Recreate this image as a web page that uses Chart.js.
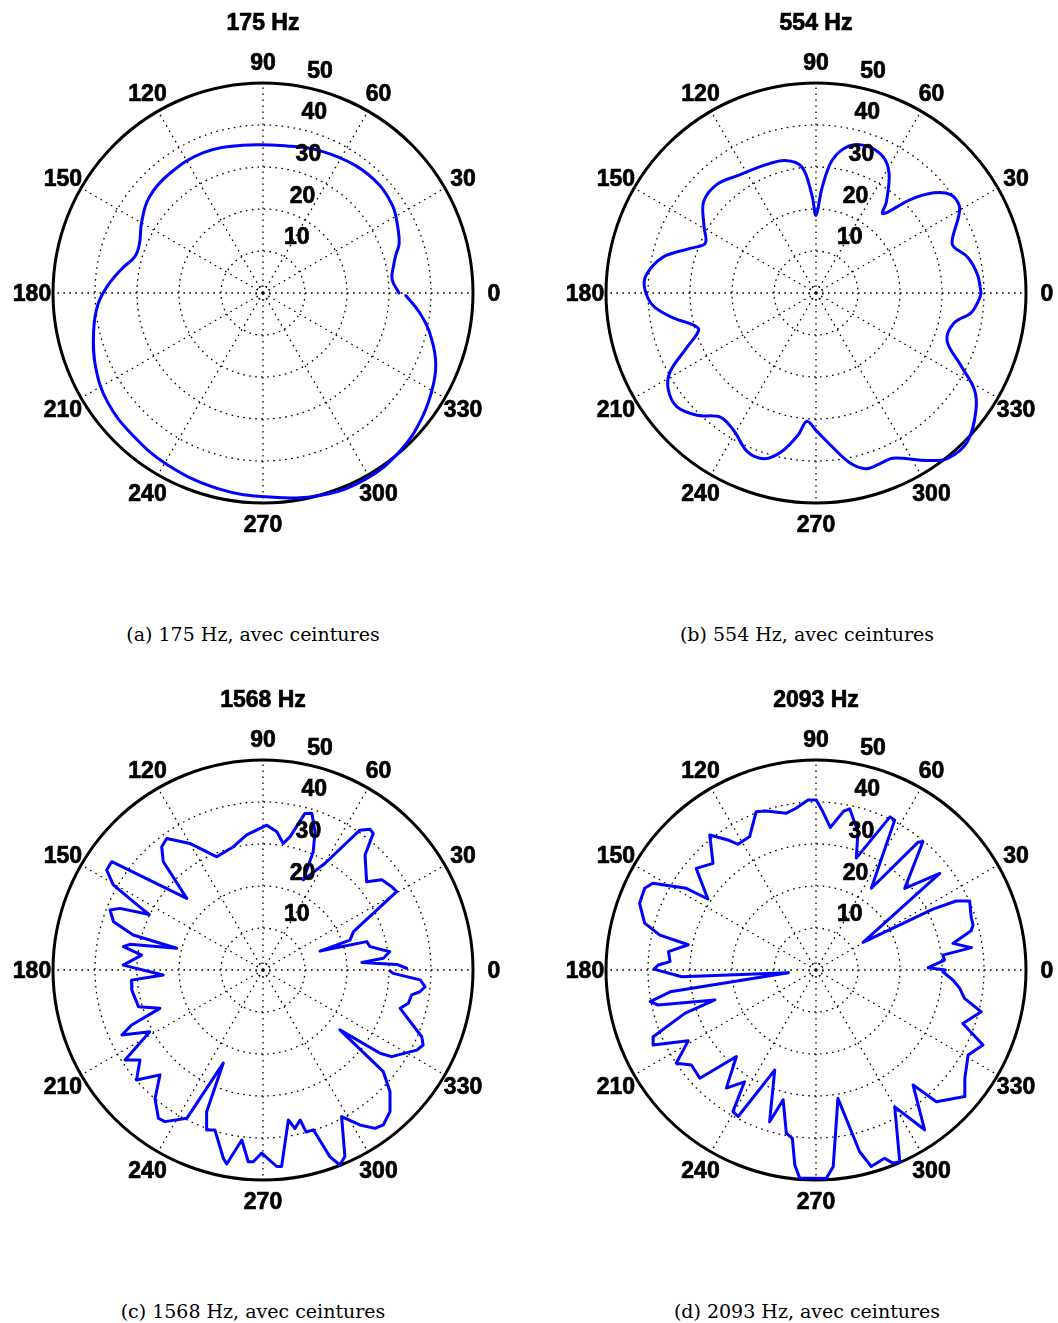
<!DOCTYPE html>
<html>
<head>
<meta charset="utf-8">
<script src="https://cdn.jsdelivr.net/npm/chart.js@4.4.1/dist/chart.umd.min.js"></script>
<style>
  body { margin:0; background:#fff; width:1058px; height:1323px; position:relative; overflow:hidden; }
  canvas { position:absolute; }
  .cap { position:absolute; width:400px; text-align:center; font-family:"DejaVu Serif", serif; font-size:19px; line-height:20px; color:#000; white-space:nowrap; }
</style>
</head>
<body>
<script>
// angle (deg) and radius readings for each panel
var titles = ["175 Hz", "554 Hz", "1568 Hz", "2093 Hz"];
var captions = ["(a) 175 Hz, avec ceintures", "(b) 554 Hz, avec ceintures",
                "(c) 1568 Hz, avec ceintures", "(d) 2093 Hz, avec ceintures"];
var angleLabels = [0, 30, 60, 90, 120, 150, 180, 210, 240, 270, 300, 330];
var radialTicks = [10, 20, 30, 40, 50];

var thetaA = [0,6,12,16,20,28,34,43,54,68,80,98,113,128,140,150,158,164,170,177,184,193,204,215,227,241,257,272,286,299,311,322,332,339,347,353,359];
var rA = [32.4,30.9,31.8,32.9,34.5,36.1,37.2,37.8,37.5,36.5,35.5,35.5,36.3,36.1,35.4,33.4,31.7,31.7,34,36.9,39.4,41.4,43.6,45.2,45.9,46.8,47.8,48.6,50.1,50.6,49.8,48.1,46,44,40.6,37.5,34];

var thetaB = [0,6.5,13.3,18.5,21.3,28.5,31.6,36.2,40.4,44.8,49.8,52.4,58.5,63.9,71.2,77.3,83,86.7,90,92.4,96.4,103.2,111.9,123.7,132.2,140.8,149.1,155.8,160.5,166.8,173.8,178.5,184.5,189.9,194.7,197.6,202.9,208.4,213.1,219.2,225.8,232.5,239.3,246.7,252.8,257.7,262.9,265.9,270.3,276,281.1,285.9,290.4,295,303.5,308.4,315.6,323.8,328.7,333.5,340,347.6,352.7,357.9,360];
var rB = [39.3,38.7,37.1,34.6,34.8,38.7,40,39.7,36.8,31.5,24.7,27.5,33.3,36.2,37,35.9,31.9,25.1,18.5,23.4,30.2,32.4,32.8,33.6,35,34.5,31.1,28.9,31.8,37.4,40.6,40.8,38.9,34.5,30.1,29.3,33.4,39.5,42,42.8,40.6,37.3,38.2,41.2,41.3,38.7,34,30.6,32.9,36.8,41.1,43.5,43.4,43.4,47.8,50.3,50.5,47.2,44.1,38.5,33.2,33.6,37.2,38.9,39.3];

var thetaC = [0.7,2.4,4.4,5.6,8.2,12.3,15.3,18.4,19,23,30.4,32.9,37.2,40.4,48.4,51.1,52.8,55.3,59.8,65.9,67,69.4,72.7,75,78.5,80.9,84.3,88.5,96.9,103.5,112.2,120,126.2,129.4,132.6,136.8,144.4,147.4,150.4,152.5,154,156.7,158.6,162.1,164.9,165.9,169.1,170.5,173,178,182.9,184.4,188.7,196.4,200.4,202.7,204.7,208.6,213.1,216.2,221,225.5,230,234.8,237.1,242.8,246.9,248.3,250.6,253.3,258.1,259.4,262.9,265.6,267.1,269.6,274,275.4,279.6,281.4,283.9,284.9,287.5,289.7,291.5,293.7,298.2,302,305.3,307.8,311.9,316.2,319.8,322.1,324.6,326,332.5,334.9,337.2,344.4,347.1,350.5,352.1,354.1,356.4,358.5,359.5];
var rC = [34.2,31.9,23.6,28.8,30.5,26.1,25.6,14.3,21.9,23.4,36.9,36.5,35.5,32.4,36.6,41.8,42.1,40.5,29.4,23.5,30.6,35.2,39.1,38.6,32.4,30.5,33.1,34.5,32.4,30.2,29.1,34.8,38.8,38,35.1,24.9,44.3,44.2,41,34,30.1,37.1,39.1,37.4,32,21.2,32.3,33.7,29.1,33.3,23.8,31.4,31.6,30.9,26.2,33.9,37,30.7,39.2,36.3,39.9,35,40,43.2,43,39.7,24.1,36.3,40.4,39.8,45.8,47,40.8,45.8,45.7,43.6,46.9,47,36.2,38.5,36.8,39.9,39.9,47.2,49.9,48.5,39.6,43.5,46.2,46.7,45.3,41.9,37.5,23.2,34.2,36.9,41.3,42.1,41,33.9,35.5,35.9,37.7,38.8,37.5,31,30.3];

var thetaD = [0,1.2,4.4,6.7,8.2,11,14.2,16,18.6,24.2,26.2,27.5,30.5,38,42.6,50.2,51.4,55.9,62.3,64.2,70.2,73.1,78.2,80.1,84.3,87.5,89.9,92.7,97,100.7,107.4,110.7,116.4,121.8,124.1,128.2,134,139.7,142.4,146.7,147.8,152,154.5,159.3,164.7,167.4,168.8,172.9,176.7,178.2,179.7,182.9,185.6,188.5,190.8,192.5,196.5,198.3,202.3,204.7,209,213.7,217.3,223,227.4,232.8,237.4,239.6,242,247.6,253,255.8,259.7,262,263.8,265.5,272.8,275,279.7,283.5,285.7,290,291.7,293.6,299.9,304.2,310.2,312.4,319.6,324,330.8,335.8,340,345.8,349.2,352.7,355.8,359.2];
var rD = [30.8,26.7,30.7,30.4,37.4,33.2,38.1,38.9,39,40.1,37.2,31.4,13,37.4,28.7,39.8,38.9,23.5,40.3,40.5,28.3,34.4,39.2,38.4,34.1,37.7,40.5,40.5,38.8,38,39.7,40.3,35.5,35.2,37.4,40.9,35.3,37.4,34.5,30.8,36.5,44,45.2,44.9,42.3,38.1,31,35.4,34.8,37.6,38.6,32,6.6,35.1,40.2,38.5,25.1,32.9,41.9,42.7,34.8,40,37.3,37.8,28,35.3,31.6,39.1,39.5,25.8,37.8,31.9,39.5,40.5,46.7,49.7,49.7,47,31,44.5,48.6,47.7,49.5,49.8,37.6,46,35.8,42.5,46.5,43.8,41.5,43.6,37.2,40.6,36,34.5,32.7,30.2];

function toXY(theta, r) {
  return theta.map(function(t, i) {
    var a = t * Math.PI / 180;
    return {x: r[i] * Math.cos(a), y: r[i] * Math.sin(a)};
  });
}

// bold text, slightly thickened to look like the matlab helvetica
function boldText(ctx, s, x, y) {
  ctx.strokeText(s, x, y);
  ctx.fillText(s, x, y);
}

var polarGrid = {
  id: 'polarGrid',
  beforeDatasetsDraw: function(chart) {
    var ctx = chart.ctx, xs = chart.scales.x, ys = chart.scales.y;
    var cx = xs.getPixelForValue(0), cy = ys.getPixelForValue(0);
    var k = xs.getPixelForValue(1) - cx;
    var rmax = radialTicks[radialTicks.length - 1];
    ctx.save();
    ctx.strokeStyle = '#000';
    ctx.lineWidth = 1.3;
    ctx.setLineDash([1.6, 4.4]);
    radialTicks.slice(0, -1).forEach(function(r) {
      ctx.beginPath(); ctx.arc(cx, cy, r * k, 0, 2 * Math.PI); ctx.stroke();
    });
    angleLabels.forEach(function(a) {
      var t = a * Math.PI / 180;
      ctx.beginPath();
      ctx.moveTo(cx, cy);
      ctx.lineTo(xs.getPixelForValue(rmax * Math.cos(t)), ys.getPixelForValue(rmax * Math.sin(t)));
      ctx.stroke();
    });
    ctx.lineWidth = 1;
    ctx.setLineDash([2, 3]);
    ctx.beginPath(); ctx.arc(cx, cy, 7, 0, 2 * Math.PI); ctx.stroke();
    ctx.setLineDash([]);
    ctx.fillStyle = '#000';
    ctx.fillRect(cx - 1, cy - 1, 2, 2);
    ctx.lineWidth = 3;
    ctx.beginPath(); ctx.arc(cx, cy, rmax * k, 0, 2 * Math.PI); ctx.stroke();
    ctx.restore();
  },
  afterDraw: function(chart, args, opts) {
    var ctx = chart.ctx, xs = chart.scales.x, ys = chart.scales.y;
    var rmax = radialTicks[radialTicks.length - 1];
    var half = 8.2; // half digit height at 23px
    ctx.save();
    ctx.fillStyle = '#000';
    ctx.strokeStyle = '#000';
    ctx.lineWidth = 0.7;
    ctx.font = 'bold 23px "Liberation Sans", Arial, sans-serif';
    // angle labels
    ctx.textAlign = 'center';
    ctx.textBaseline = 'alphabetic';
    angleLabels.forEach(function(a) {
      var t = a * Math.PI / 180;
      boldText(ctx, String(a), xs.getPixelForValue(1.1 * rmax * Math.cos(t)),
               ys.getPixelForValue(1.1 * rmax * Math.sin(t)) + half);
    });
    // radial labels along 82 deg
    ctx.textAlign = 'left';
    ctx.textBaseline = 'bottom';
    var t82 = 82 * Math.PI / 180;
    radialTicks.forEach(function(r) {
      var rr = r + 0.5;
      boldText(ctx, '  ' + r, xs.getPixelForValue(rr * Math.cos(t82)) + 2, ys.getPixelForValue(rr * Math.sin(t82)));
    });
    // title
    ctx.textAlign = 'center';
    ctx.textBaseline = 'alphabetic';
    boldText(ctx, opts.title, xs.getPixelForValue(0), ys.getPixelForValue(0) - 271 + half);
    ctx.restore();
  }
};

var panels = [
  {theta: thetaA, r: rA, tension: 0.4, left: 0, top: 0, capX: 253, capY: 634},
  {theta: thetaB, r: rB, tension: 0.35, left: 553, top: 0, capX: 807, capY: 634},
  {theta: thetaC, r: rC, tension: 0, left: 0, top: 677, capX: 253, capY: 1311},
  {theta: thetaD, r: rD, tension: 0, left: 553, top: 677, capX: 807, capY: 1311}
];

panels.forEach(function(p, i) {
  var cv = document.createElement('canvas');
  cv.width = 505; cv.height = 560;
  cv.style.left = p.left + 'px';
  cv.style.top = p.top + 'px';
  document.body.appendChild(cv);

  var cap = document.createElement('div');
  cap.className = 'cap';
  cap.textContent = captions[i];
  cap.style.left = (p.capX - 200) + 'px';
  cap.style.top = (p.capY - 10) + 'px';
  document.body.appendChild(cap);

  new Chart(cv, {
    type: 'scatter',
    data: {
      datasets: [{
        data: toXY(p.theta, p.r),
        showLine: true,
        borderColor: '#0000ff',
        borderWidth: 3,
        borderJoinStyle: 'round',
        borderCapStyle: 'round',
        pointRadius: 0,
        tension: p.tension,
        fill: false,
        clip: false
      }]
    },
    options: {
      responsive: false,
      animation: false,
      layout: {padding: {left: 53, right: 32, top: 83, bottom: 57}},
      scales: {
        x: {type: 'linear', min: -50, max: 50, display: false},
        y: {type: 'linear', min: -50, max: 50, display: false}
      },
      plugins: {
        legend: {display: false},
        tooltip: {enabled: false},
        polarGrid: {title: titles[i]}
      }
    },
    plugins: [polarGrid]
  });
});
</script>
</body>
</html>
